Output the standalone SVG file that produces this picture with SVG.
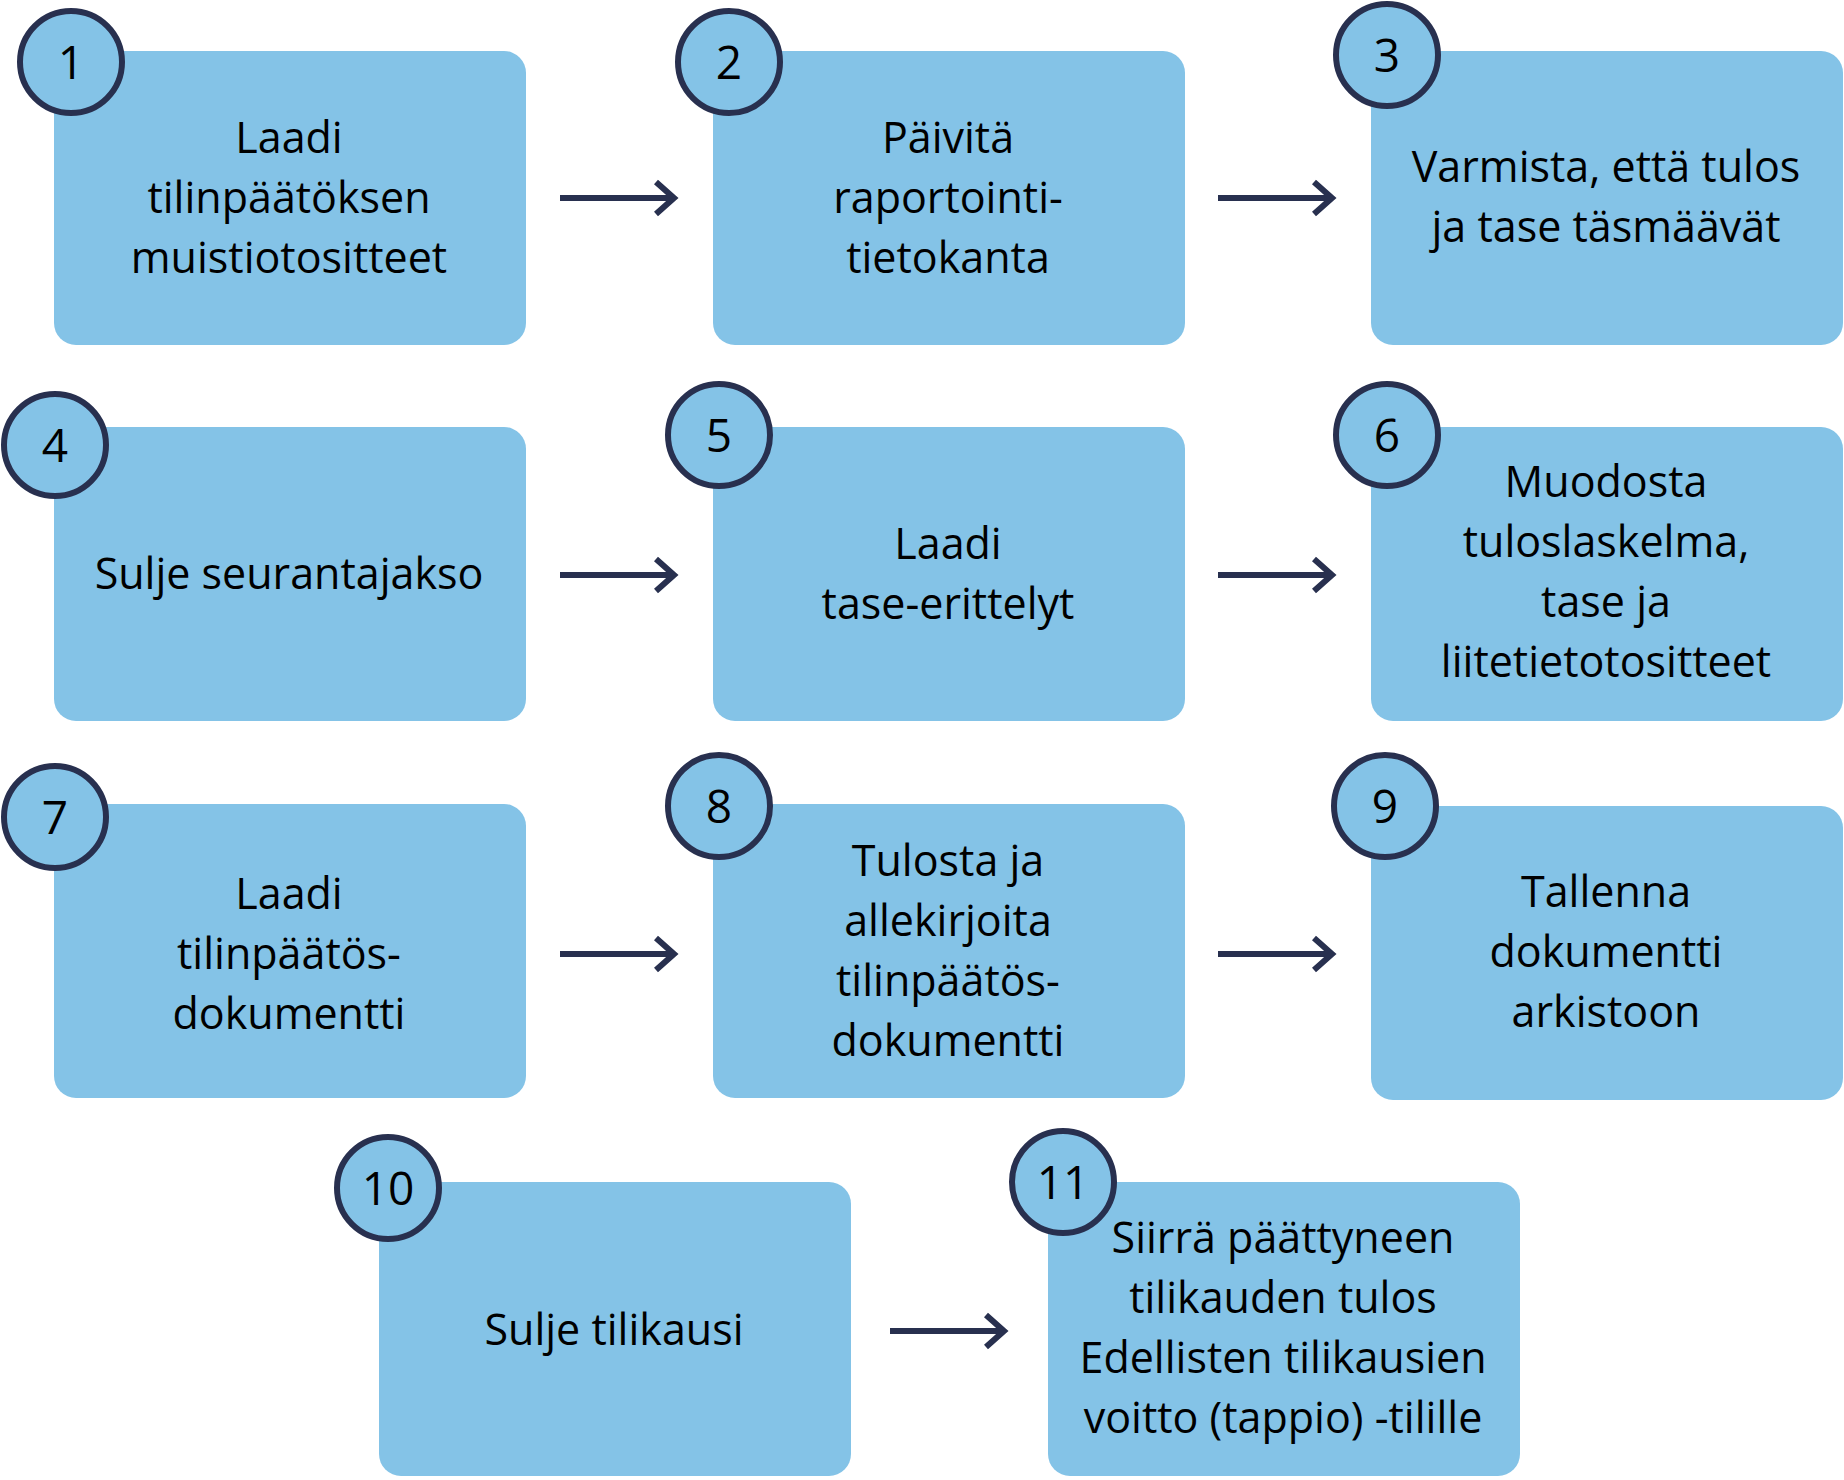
<svg xmlns="http://www.w3.org/2000/svg" width="1844" height="1480" viewBox="0 0 1844 1480">
<defs>
<style>
.box{fill:#84C3E7}
.num{fill:#84C3E7;stroke:#28304F;stroke-width:6}
.t{font-family:"Open Sans","Liberation Sans",sans-serif;font-size:43px;fill:#000;text-anchor:middle}
.n{font-family:"Open Sans","Liberation Sans",sans-serif;font-size:46px;fill:#000;text-anchor:middle}
.c{stroke:#28304F;stroke-width:6;fill:none;marker-end:url(#ah)}
</style>
<marker id="ah" markerWidth="8" markerHeight="10" refX="6" refY="5" orient="auto" markerUnits="userSpaceOnUse" viewBox="0 0 8 10"><path d="M0,0 L6,5 L0,10" fill="none" stroke="#28304F" stroke-width="0"/></marker>
</defs>
<rect width="1844" height="1480" fill="#fff"/>
<g id="connectors" stroke="#28304F" stroke-width="6" fill="none">
<path d="M560 198H674M656 182L674 198L656 214"/>
<path d="M1218 198H1332M1314 182L1332 198L1314 214"/>
<path d="M560 575H674M656 559L674 575L656 591"/>
<path d="M1218 575H1332M1314 559L1332 575L1314 591"/>
<path d="M560 954H674M656 938L674 954L656 970"/>
<path d="M1218 954H1332M1314 938L1332 954L1314 970"/>
<path d="M890 1331H1004M986 1315L1004 1331L986 1347"/>
</g>
<g id="n1"><rect class="box" x="54" y="51" width="472" height="294" rx="22"/><circle class="num" cx="71" cy="62" r="51"/><text class="n" x="71" y="79">1</text>
<text class="t" x="289" y="153">Laadi</text><text class="t" x="289" y="213">tilinpäätöksen</text><text class="t" x="289" y="273">muistiotositteet</text></g>
<g id="n2"><rect class="box" x="713" y="51" width="472" height="294" rx="22"/><circle class="num" cx="729" cy="62" r="51"/><text class="n" x="729" y="79">2</text>
<text class="t" x="948" y="153">Päivitä</text><text class="t" x="948" y="213">raportointi-</text><text class="t" x="948" y="273">tietokanta</text></g>
<g id="n3"><rect class="box" x="1371" y="51" width="472" height="294" rx="22"/><circle class="num" cx="1387" cy="55" r="51"/><text class="n" x="1387" y="72">3</text>
<text class="t" x="1606" y="182">Varmista, että tulos</text><text class="t" x="1606" y="242">ja tase täsmäävät</text></g>
<g id="n4"><rect class="box" x="54" y="427" width="472" height="294" rx="22"/><circle class="num" cx="55" cy="445" r="51"/><text class="n" x="55" y="462">4</text>
<text class="t" x="289" y="589">Sulje seurantajakso</text></g>
<g id="n5"><rect class="box" x="713" y="427" width="472" height="294" rx="22"/><circle class="num" cx="719" cy="435" r="51"/><text class="n" x="719" y="452">5</text>
<text class="t" x="948" y="559">Laadi</text><text class="t" x="948" y="619">tase-erittelyt</text></g>
<g id="n6"><rect class="box" x="1371" y="427" width="472" height="294" rx="22"/><circle class="num" cx="1387" cy="435" r="51"/><text class="n" x="1387" y="452">6</text>
<text class="t" x="1606" y="497">Muodosta</text><text class="t" x="1606" y="557">tuloslaskelma,</text><text class="t" x="1606" y="617">tase ja</text><text class="t" x="1606" y="677">liitetietotositteet</text></g>
<g id="n7"><rect class="box" x="54" y="804" width="472" height="294" rx="22"/><circle class="num" cx="55" cy="817" r="51"/><text class="n" x="55" y="834">7</text>
<text class="t" x="289" y="909">Laadi</text><text class="t" x="289" y="969">tilinpäätös-</text><text class="t" x="289" y="1029">dokumentti</text></g>
<g id="n8"><rect class="box" x="713" y="804" width="472" height="294" rx="22"/><circle class="num" cx="719" cy="806" r="51"/><text class="n" x="719" y="823">8</text>
<text class="t" x="948" y="876">Tulosta ja</text><text class="t" x="948" y="936">allekirjoita</text><text class="t" x="948" y="996">tilinpäätös-</text><text class="t" x="948" y="1056">dokumentti</text></g>
<g id="n9"><rect class="box" x="1371" y="806" width="472" height="294" rx="22"/><circle class="num" cx="1385" cy="806" r="51"/><text class="n" x="1385" y="823">9</text>
<text class="t" x="1606" y="907">Tallenna</text><text class="t" x="1606" y="967">dokumentti</text><text class="t" x="1606" y="1027">arkistoon</text></g>
<g id="n10"><rect class="box" x="379" y="1182" width="472" height="294" rx="22"/><circle class="num" cx="388" cy="1188" r="51"/><text class="n" x="388" y="1205">10</text>
<text class="t" x="614" y="1345">Sulje tilikausi</text></g>
<g id="n11"><rect class="box" x="1048" y="1182" width="472" height="294" rx="22"/><circle class="num" cx="1063" cy="1182" r="51"/><text class="n" x="1063" y="1199">11</text>
<text class="t" x="1283" y="1253">Siirrä päättyneen</text><text class="t" x="1283" y="1313">tilikauden tulos</text><text class="t" x="1283" y="1373">Edellisten tilikausien</text><text class="t" x="1283" y="1433">voitto (tappio) -tilille</text></g>
</svg>
